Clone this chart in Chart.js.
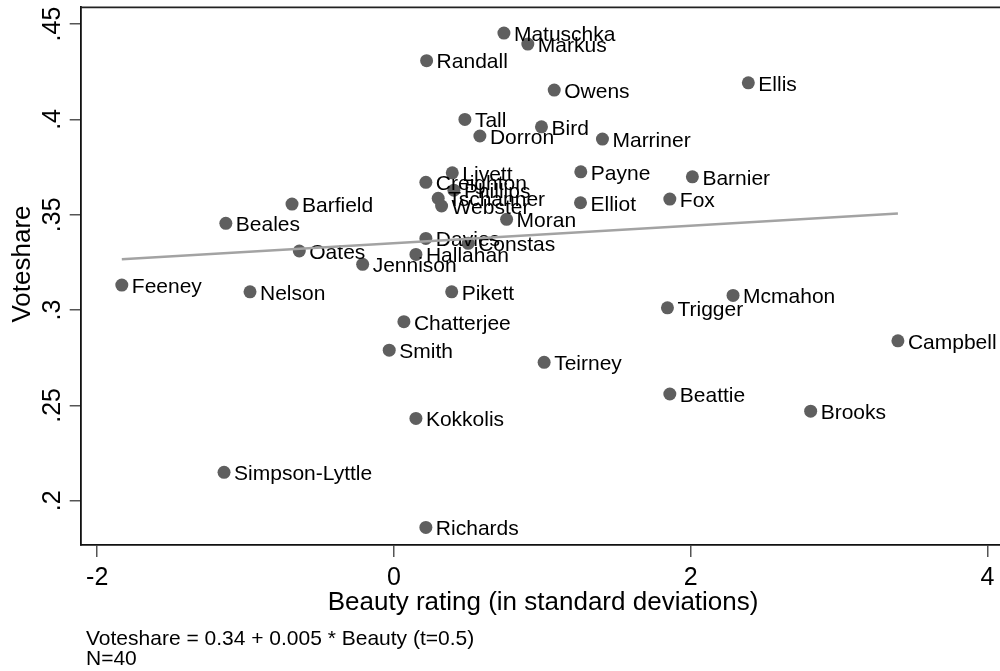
<!DOCTYPE html>
<html>
<head>
<meta charset="utf-8">
<title>Voteshare and beauty</title>
<script src="https://cdn.jsdelivr.net/npm/chart.js@4/dist/chart.umd.min.js"></script>
<style>
  html, body { margin: 0; padding: 0; background: #fff; overflow: hidden; }
  #wrap { width: 1000px; height: 671px; overflow: hidden; position: relative; }
  canvas { display: block; }
</style>
</head>
<body>
<div id="wrap"><canvas id="chart" width="1012" height="671"></canvas></div>
<script>
// Candidates, beauty rating (sd) and voteshare
const names = [
  "Matuschka", "Markus", "Randall", "Tall", "Dorron", "Bird", "Livett", "Creighton",
  "Phillips", "Tschanner", "Webster", "Barfield", "Beales", "Moran", "Davies", "Constas",
  "Oates", "Hallahan", "Jennison", "Owens", "Ellis", "Marriner", "Payne", "Barnier",
  "Elliot", "Fox", "Feeney", "Nelson", "Pikett", "Chatterjee", "Smith", "Kokkolis",
  "Simpson-Lyttle", "Richards", "Teirney", "Trigger", "Mcmahon", "Campbell", "Beattie", "Brooks"
];
const beauty = [
  0.741, 0.902, 0.220, 0.478, 0.579, 0.994, 0.393, 0.215,
  0.404, 0.298, 0.321, -0.687, -1.133, 0.759, 0.215, 0.500,
  -0.638, 0.148, -0.211, 1.080, 2.388, 1.405, 1.259, 2.011,
  1.257, 1.859, -1.834, -0.970, 0.389, 0.067, -0.032, 0.148,
  -1.145, 0.215, 1.012, 1.843, 2.285, 3.396, 1.859, 2.808
];
const voteshare = [
  0.4453, 0.4395, 0.4308, 0.4000, 0.3913, 0.3961, 0.3720, 0.3670,
  0.3629, 0.3586, 0.3546, 0.3556, 0.3455, 0.3476, 0.3376, 0.3350,
  0.3310, 0.3292, 0.3240, 0.4154, 0.4192, 0.3897, 0.3725, 0.3699,
  0.3563, 0.3582, 0.3131, 0.3096, 0.3096, 0.2939, 0.2790, 0.2432,
  0.2149, 0.1860, 0.2726, 0.3012, 0.3077, 0.2839, 0.2560, 0.2470
];

// Fitted line end points
const fitX = [-1.834, 3.396];
const fitY = [0.3266, 0.3507];

// Axis ticks
const xTicks = [-2, 0, 2, 4];
const xTickLabels = ["-2", "0", "2", "4"];
const yTicks = [0.2, 0.25, 0.3, 0.35, 0.4, 0.45];
const yTickLabels = [".2", ".25", ".3", ".35", ".4", ".45"];

const xTitle = "Beauty rating (in standard deviations)";
const yTitle = "Voteshare";
const noteLines = ["Voteshare = 0.34 + 0.005 * Beauty (t=0.5)", "N=40"];

const FONT = '"Liberation Sans", Arial, Helvetica, sans-serif';

// Draws point labels (under the fit line) plus the axis text and frame
const textPlugin = {
  id: "stataText",
  afterDatasetDraw(chart, args) {
    if (args.index !== 0) return;
    const ctx = chart.ctx;
    ctx.save();
    ctx.font = "21px " + FONT;
    ctx.fillStyle = "#000";
    ctx.textAlign = "left";
    ctx.textBaseline = "alphabetic";
    args.meta.data.forEach((pt, i) => {
      ctx.fillText(names[i], pt.x + 10, pt.y + 7.8);
    });
    ctx.restore();
  },
  afterDraw(chart) {
    const ctx = chart.ctx;
    const area = chart.chartArea;
    const xs = chart.scales.x;
    const ys = chart.scales.y;
    ctx.save();

    // top edge of the plot region
    ctx.strokeStyle = "#222";
    ctx.lineWidth = 1.8;
    ctx.beginPath();
    ctx.moveTo(area.left, area.top);
    ctx.lineTo(chart.width, area.top);
    ctx.stroke();

    ctx.fillStyle = "#000";

    // y tick labels, rotated
    ctx.font = "25px " + FONT;
    ctx.textAlign = "center";
    ctx.textBaseline = "alphabetic";
    yTicks.forEach((v, i) => {
      ctx.save();
      ctx.translate(59.5, ys.getPixelForValue(v));
      ctx.rotate(-Math.PI / 2);
      ctx.fillText(yTickLabels[i], 0, 0);
      ctx.restore();
    });

    // x tick labels
    xTicks.forEach((v, i) => {
      ctx.fillText(xTickLabels[i], xs.getPixelForValue(v), 585);
    });

    // axis titles
    ctx.font = "26px " + FONT;
    ctx.fillText(xTitle, (area.left + area.right) / 2, 610);
    ctx.save();
    ctx.translate(30, 264);
    ctx.rotate(-Math.PI / 2);
    ctx.fillText(yTitle, 0, 0);
    ctx.restore();

    // note below the graph
    ctx.font = "21px " + FONT;
    ctx.textAlign = "left";
    ctx.fillText(noteLines[0], 86, 644.5);
    ctx.fillText(noteLines[1], 86, 665);

    ctx.restore();
  }
};

const canvas = document.getElementById("chart");
new Chart(canvas, {
  type: "scatter",
  data: {
    datasets: [
      {
        label: "Voteshare",
        data: beauty.map((b, i) => ({ x: b, y: voteshare[i] })),
        pointRadius: 6.5,
        pointBackgroundColor: "#5f5f5f",
        pointBorderWidth: 0,
        order: 1
      },
      {
        label: "Fitted values",
        data: fitX.map((x, i) => ({ x: x, y: fitY[i] })),
        showLine: true,
        borderColor: "#a3a3a3",
        borderWidth: 2.5,
        pointRadius: 0,
        fill: false,
        order: 0
      }
    ]
  },
  options: {
    responsive: false,
    animation: false,
    events: [],
    layout: { padding: { left: 0, top: 7.3, right: 6, bottom: 0 } },
    plugins: { legend: { display: false }, tooltip: { enabled: false }, title: { display: false } },
    scales: {
      x: {
        type: "linear",
        position: "bottom",
        min: -2.111,
        max: 4.121,
        afterBuildTicks: s => { s.ticks = xTicks.map(v => ({ value: v })); },
        afterFit: s => { s.height = 126; },
        ticks: { display: false },
        grid: { drawOnChartArea: false, drawTicks: true, tickLength: 12, color: "#555", lineWidth: 1.5 },
        border: { display: true, color: "#111", width: 1.8 }
      },
      y: {
        type: "linear",
        position: "left",
        min: 0.1768,
        max: 0.4588,
        afterBuildTicks: s => { s.ticks = yTicks.map(v => ({ value: v })); },
        afterFit: s => { s.width = 80.7; },
        ticks: { display: false },
        grid: { drawOnChartArea: false, drawTicks: true, tickLength: 11, color: "#555", lineWidth: 1.5 },
        border: { display: true, color: "#111", width: 1.8 }
      }
    }
  },
  plugins: [textPlugin]
});
</script>
</body>
</html>
